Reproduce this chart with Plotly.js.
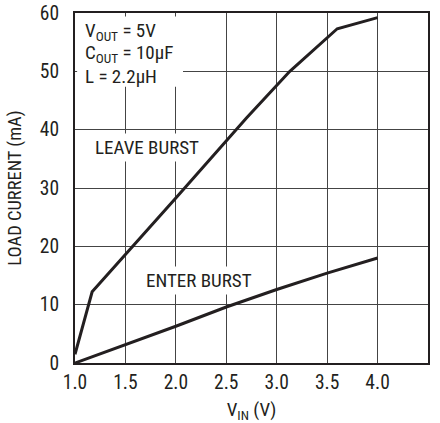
<!DOCTYPE html>
<html><head><meta charset="utf-8">
<script src="https://cdn.plot.ly/plotly-3.0.1.min.js"></script>
<style>html,body{margin:0;padding:0;background:#fff}#c{width:440px;height:423px}</style>
</head><body><div id="c"></div>
<script>
const leaveX = [1.0, 1.17, 2.0, 2.7, 3.13, 3.6, 4.0];
const leaveY = [1.5, 12.2, 28.3, 42.0, 50.0, 57.3, 59.2];
const enterX = [1.0, 1.5, 2.0, 2.5, 3.0, 3.5, 4.0];
const enterY = [0, 3.1, 6.3, 9.6, 12.6, 15.4, 18.0];
const xTicks = [1.0, 1.5, 2.0, 2.5, 3.0, 3.5, 4.0, 4.5];
const xTickText = ['1.0','1.5','2.0','2.5','3.0','3.5','4.0','4.5'];
const yTicks = [0, 10, 20, 30, 40, 50, 60];

const FONT = 'Roboto Condensed, Liberation Sans Narrow, Arial Narrow, sans-serif';
const lineStyle = {color: '#231f20', width: 3};
const data = [
  {x: leaveX, y: leaveY, mode: 'lines', line: lineStyle, hoverinfo: 'skip'},
  {x: enterX, y: enterY, mode: 'lines', line: lineStyle, hoverinfo: 'skip'}
];
const layout = {
  width: 440, height: 423,
  margin: {l: 75, r: 12, t: 13, b: 60},
  paper_bgcolor: '#fff', plot_bgcolor: '#fff',
  showlegend: false,
  font: {family: FONT, size: 19, color: '#231f20'},
  xaxis: {
    range: [1.0, 4.5], tickvals: xTicks, ticktext: xTickText,
    showgrid: true, gridcolor: '#444', gridwidth: 1,
    showline: true, mirror: true, linecolor: '#231f20', linewidth: 2,
    ticks: '', zeroline: false, ticklabelstandoff: 1,
    tickfont: {size: 19.5},
    title: {text: 'V<sub>IN</sub> (V)', font: {size: 19}, standoff: 9}
  },
  yaxis: {
    range: [0, 60], tickvals: yTicks,
    showgrid: true, gridcolor: '#444', gridwidth: 1,
    showline: true, mirror: true, linecolor: '#231f20', linewidth: 2,
    ticks: '', zeroline: false, ticklabelstandoff: 10,
    tickfont: {size: 19.5},
    title: {text: 'LOAD CURRENT (mA)', font: {size: 18.5}, standoff: 13}
  },
  shapes: [
    {type: 'rect', xref: 'paper', yref: 'paper', x0: 0.006, x1: 0.306, y0: 0.789, y1: 0.99,
     fillcolor: '#fff', line: {width: 0}, layer: 'above'}
  ],
  annotations: [
    {xref: 'paper', yref: 'paper', x: 0.024, y: 0.946, xanchor: 'left', yanchor: 'middle',
     showarrow: false, text: 'V<sub>OUT</sub> = 5V'},
    {xref: 'paper', yref: 'paper', x: 0.024, y: 0.884, xanchor: 'left', yanchor: 'middle',
     showarrow: false, text: 'C<sub>OUT</sub> = 10µF'},
    {xref: 'paper', yref: 'paper', x: 0.024, y: 0.819, xanchor: 'left', yanchor: 'middle',
     showarrow: false, text: 'L = 2.2µH'},
    {xref: 'x', yref: 'y', x: 1.17, y: 36.9, xanchor: 'left', yanchor: 'middle',
     showarrow: false, bgcolor: '#fff', borderpad: 2, text: 'LEAVE BURST'},
    {xref: 'x', yref: 'y', x: 1.675, y: 14.2, xanchor: 'left', yanchor: 'middle',
     showarrow: false, bgcolor: '#fff', borderpad: 2, text: 'ENTER BURST'}
  ]
};
Plotly.newPlot('c', data, layout, {staticPlot: true, displayModeBar: false});
</script></body></html>
